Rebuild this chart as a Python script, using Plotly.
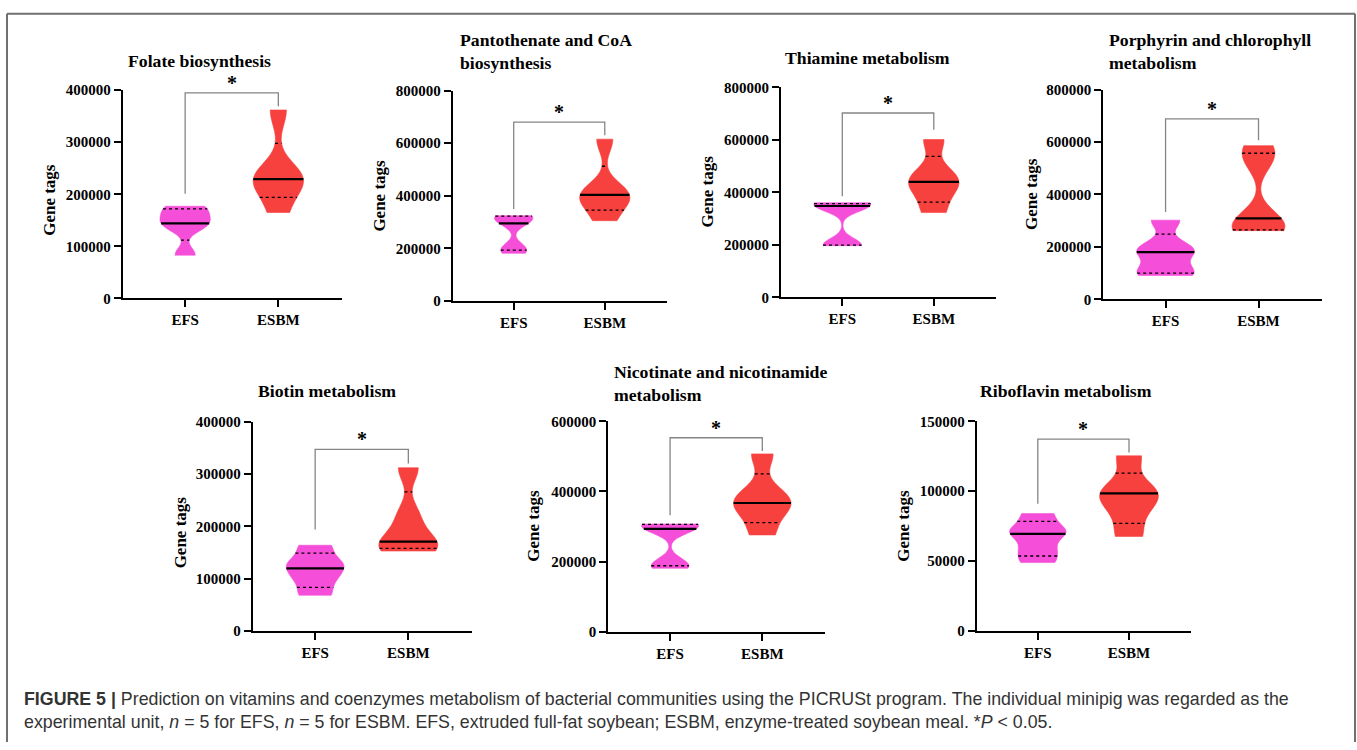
import numpy as np
import plotly.graph_objects as go

W, H = 1357, 750

# ---------------- data ----------------
groups = ["EFS", "ESBM"]
titles = [
    "Folate biosynthesis",
    "Pantothenate and CoA<br>biosynthesis",
    "Thiamine metabolism",
    "Porphyrin and chlorophyll<br>metabolism",
    "Biotin metabolism",
    "Nicotinate and nicotinamide<br>metabolism",
    "Riboflavin metabolism",
]
y_title = "Gene tags"

folate_efs = [83000, 141000, 144000, 167000, 177000]
folate_esbm = [165000, 223000, 229000, 234000, 362000]
panto_efs = [181000, 205000, 295000, 320000, 324000]
panto_esbm = [305000, 385000, 403000, 409000, 615000]
thiamine_efs = [197000, 201000, 348000, 354000, 360000]
thiamine_esbm = [323000, 403000, 440000, 473000, 601000]
porph_efs = [91000, 109000, 180000, 196000, 302000]
porph_esbm = [262000, 268000, 309000, 528000, 586000]
biotin_efs = [68500, 98500, 120000, 134000, 164000]
biotin_esbm = [153000, 163000, 171000, 220000, 312000]
nico_efs = [181000, 195000, 293000, 305000, 307000]
nico_esbm = [276000, 346000, 367000, 393000, 507000]
ribo_efs = [49000, 58400, 69500, 72800, 84000]
ribo_esbm = [67700, 86300, 98400, 100500, 125300]

efs_series = [folate_efs, panto_efs, thiamine_efs, porph_efs, biotin_efs, nico_efs, ribo_efs]
esbm_series = [folate_esbm, panto_esbm, thiamine_esbm, porph_esbm, biotin_esbm, nico_esbm, ribo_esbm]

y_max = [400000, 800000, 800000, 800000, 400000, 600000, 150000]
y_step = [100000, 200000, 200000, 200000, 100000, 200000, 50000]
# significance bracket levels: [EFS leg end, bar, ESBM leg end]
bracket_levels = [
    [201000, 395000, 369000],
    [349000, 680000, 630000],
    [385000, 702000, 638000],
    [333000, 688000, 607000],
    [194000, 347000, 320000],
    [332000, 553000, 515000],
    [91000, 137200, 127600],
]
sig_label = "*"
caption_1 = ("<b>FIGURE 5 |</b> Prediction on vitamins and coenzymes metabolism of bacterial "
             "communities using the PICRUSt program. The individual minipig was regarded as the")
caption_2 = ("experimental unit, <i>n</i> = 5 for EFS, <i>n</i> = 5 for ESBM. EFS, extruded full-fat "
             "soybean; ESBM, enzyme-treated soybean meal. *<i>P</i> &lt; 0.05.")

# ---------------- layout / style ----------------
# panel boxes in pixels: left, right, top, bottom
boxes = [
    (122.7, 341.7, 84.0, 296.7),
    (452.7, 666.7, 84.3, 299.3),
    (781.0, 996.0, 81.0, 295.7),
    (1103.3, 1321.7, 83.3, 297.7),
    (252.7, 471.7, 422.7, 636.7),
    (608.3, 825.0, 422.3, 637.3),
    (976.7, 1191.0, 422.3, 636.7),
]
title_pos = [
    (199, 54, "center"), (457.7, 44.7, "left"), (868, 50.7, "center"),
    (1107.3, 44.2, "left"), (326.7, 391.7, "center"), (611.7, 383.7, "left"),
    (1066.3, 391.7, "center"),
]
ytitle_pos = [(50, 196), (380, 191.7), (707, 187.5), (1032, 190),
              (180, 535.8), (534, 529), (904, 529)]
violin_w = [(0.54, 0.54), (0.42, 0.55), (0.62, 0.55), (0.62, 0.57),
            (0.62, 0.63), (0.62, 0.62), (0.62, 0.64)]
colors = ["#F54ED8", "#F7413F"]
x_range = [-0.67, 1.68]
bw_frac = 0.16
SERIF = "Liberation Serif"


def px(x):
    return x / W


def py(y):
    return 1 - y / H


def kde(v, bw, t):
    v = np.asarray(v, float)
    t = np.atleast_1d(np.asarray(t, float))
    return np.exp(-0.5 * ((t[:, None] - v[None, :]) / bw) ** 2).sum(axis=1)


def max_kde(v, bw):
    lo, hi = min(v), max(v)
    n = int(np.ceil((hi - lo) / (bw / 3)))
    grid = lo + np.arange(n + 1) * (hi - lo) / n
    return kde(v, bw, grid).max()


fig = go.Figure()
annotations = []
shapes = []

for p in range(7):
    ax = "" if p == 0 else str(p + 1)
    xref, yref = "x" + ax, "y" + ax
    L, R, T, B = boxes[p]
    fig.layout["xaxis" + ax] = dict(
        domain=[px(L), px(R)], range=x_range, anchor=yref,
        tickmode="array", tickvals=list(range(len(groups))), ticktext=groups,
        showline=True, linecolor="black", linewidth=2,
        ticks="outside", ticklen=7, tickwidth=2, tickcolor="black",
        showgrid=False, zeroline=False, fixedrange=True,
        tickfont=dict(family=SERIF, size=15, color="black", weight="bold"),
    )
    fig.layout["yaxis" + ax] = dict(
        domain=[py(B), py(T)], range=[0, y_max[p]], anchor=xref,
        tickmode="linear", tick0=0, dtick=y_step[p], tickformat="d",
        showline=True, linecolor="black", linewidth=2,
        ticks="outside", ticklen=7, tickwidth=2, tickcolor="black",
        showgrid=False, zeroline=False, fixedrange=True,
        tickfont=dict(family=SERIF, size=15, color="black", weight="bold"),
    )

    for gi, vals in enumerate([efs_series[p], esbm_series[p]]):
        v = np.asarray(vals, float)
        bw = bw_frac * (v.max() - v.min())
        width = violin_w[p][gi]
        fig.add_trace(go.Violin(
            x0=gi, y=vals, name=groups[gi], xaxis=xref, yaxis=yref,
            width=width, bandwidth=bw, spanmode="hard", scalemode="width",
            points=False, box_visible=False, meanline_visible=False,
            fillcolor=colors[gi], line=dict(color=colors[gi], width=0.6),
            opacity=1, showlegend=False, hoverinfo="skip",
        ))
        mk = max_kde(v, bw)
        q1, med, q3 = np.percentile(v, [25, 50, 75], method="weibull")
        for q, dash, lw in [(q1, "dot", 1.3), (q3, "dot", 1.3), (med, "solid", 2.2)]:
            hw = width / 2 * kde(v, bw, q)[0] / mk
            fig.add_trace(go.Scatter(
                x=[gi - hw, gi + hw], y=[q, q], mode="lines", xaxis=xref, yaxis=yref,
                line=dict(color="black", width=lw, dash=dash),
                showlegend=False, hoverinfo="skip",
            ))

    lo_l, top, lo_r = bracket_levels[p]
    fig.add_trace(go.Scatter(
        x=[0, 0, 1, 1], y=[lo_l, top, top, lo_r], mode="lines", xaxis=xref, yaxis=yref,
        line=dict(color="#858585", width=1.3), showlegend=False, hoverinfo="skip",
    ))
    annotations.append(dict(
        x=0.5, y=top, xref=xref, yref=yref, text="<b>" + sig_label + "</b>",
        showarrow=False, yanchor="bottom", yshift=-3,
        font=dict(family=SERIF, size=20, color="black"),
    ))

    tx, ty, al = title_pos[p]
    annotations.append(dict(
        x=px(tx), y=py(ty), xref="paper", yref="paper", text="<b>" + titles[p] + "</b>",
        showarrow=False, xanchor="left" if al == "left" else "center", yanchor="middle",
        align=al, font=dict(family=SERIF, size=17.7, color="black"),
    ))
    gx, gy = ytitle_pos[p]
    annotations.append(dict(
        x=px(gx), y=py(gy), xref="paper", yref="paper", text="<b>" + y_title + "</b>",
        showarrow=False, textangle=-90, xanchor="center", yanchor="middle",
        font=dict(family=SERIF, size=17, color="black"),
    ))

annotations.append(dict(
    x=px(22), y=py(706), xref="paper", yref="paper", text=caption_1, showarrow=False,
    xanchor="left", yanchor="middle", align="left",
    font=dict(family="Liberation Sans", size=17.8, color="#333333"),
))
annotations.append(dict(
    x=px(22), y=py(730), xref="paper", yref="paper", text=caption_2, showarrow=False,
    xanchor="left", yanchor="middle", align="left",
    font=dict(family="Liberation Sans", size=17.8, color="#333333"),
))

# figure frame (top, left, right)
for x0, y0, x1, y1 in [(7, 6, 1355, 6), (7, 6, 7, 750), (1355, 6, 1355, 750)]:
    shapes.append(dict(type="line", xref="paper", yref="paper",
                       x0=px(x0), y0=py(y0), x1=px(x1), y1=py(y1),
                       line=dict(color="#707070", width=2)))

fig.update_layout(
    width=W, height=H, margin=dict(l=0, r=0, t=0, b=0),
    paper_bgcolor="white", plot_bgcolor="white",
    annotations=annotations, shapes=shapes, showlegend=False,
    violinmode="overlay",
)

fig.write_html("out.html")
